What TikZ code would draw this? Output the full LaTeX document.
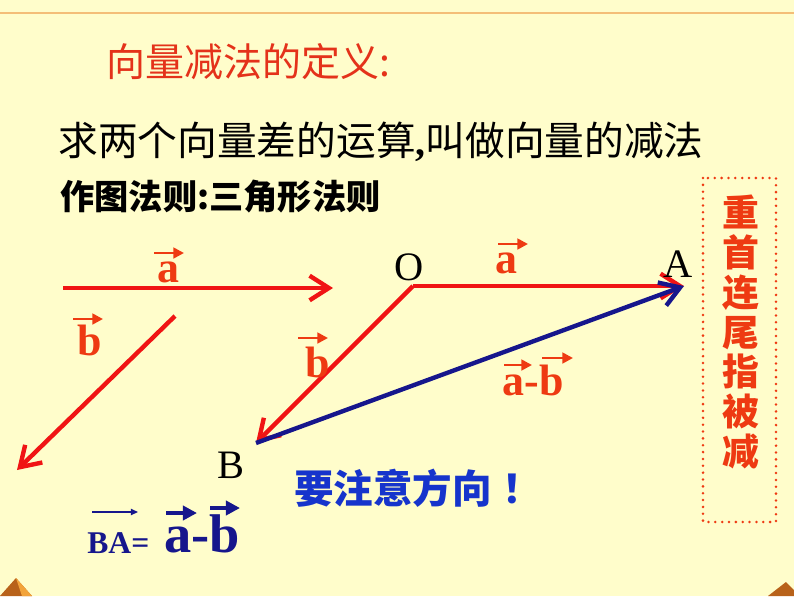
\documentclass[tikz,border=0pt]{standalone}
\usepackage{fontspec}
\setmainfont{Liberation Serif}
\newfontfamily\cjk{Noto Sans CJK SC}
\usetikzlibrary{arrows.meta,calc}

\definecolor{bgyellow}{HTML}{FFFDCB}
\definecolor{vecred}{HTML}{F01414}
\definecolor{labred}{HTML}{EE3A12}
\definecolor{titlered}{HTML}{E4321A}
\definecolor{navy}{HTML}{16168C}
\definecolor{noteblue}{HTML}{1634CC}
\definecolor{ruleorange}{HTML}{F4BE78}
\definecolor{pyrdark}{HTML}{B8621A}
\definecolor{pyrlight}{HTML}{F2A33A}

\tikzset{
  vec/.style={vecred, line width=2.5pt, -{Straight Barb[length=11pt,width=14pt]}},
  diffvec/.style={vec, navy},
  vecmark/.style={labred, line width=1.6pt, -{Triangle[length=6pt,width=6pt]}},
  letter/.style={labred, font=\fontsize{25}{25}\selectfont\bfseries, inner sep=0pt, anchor=base},
  ptlabel/.style={font=\fontsize{23}{23}\selectfont, inner sep=0pt, anchor=base},
}

\begin{document}
\begin{tikzpicture}[x=0.02cm, y=-0.02cm]

  % page
  \fill[bgyellow] (0,0) rectangle (794,596);
  \useasboundingbox (0,0) rectangle (794,596);
  \draw[ruleorange, line width=1.3pt] (0,13) -- (794,13);
  \fill[pyrdark] (0,596) -- (16,578) -- (32,596) -- cycle;
  \fill[pyrlight] (16,578) -- (32,596) -- (22,596) -- cycle;
  \fill[pyrdark] (768,596) -- (786,582) -- (794,590) -- (794,596) -- cycle;

  % texts
  \node[anchor=west, inner sep=0pt, titlered, font=\cjk\fontsize{22.2}{22.2}\selectfont] (title) at (106,62) {向量减法的定义:};
  \node[anchor=west, inner sep=0pt, font=\cjk\fontsize{22.6}{22.6}\selectfont] (defn) at (58,142) {求两个向量差的运算{\rmfamily\bfseries,}叫做向量的减法};
  \node[anchor=west, inner sep=0pt, font=\cjk\bfseries\fontsize{19.5}{19.5}\selectfont] (rule) at (60,197) {作图法则:三角形法则};

  % the two vectors
  \coordinate (a1) at (63,288);
  \coordinate (a2) at (333,288);
  \coordinate (b1) at (175,316);
  \coordinate (b2) at (17,470);
  \draw[vec] (a1) -- (a2);
  \draw[vec] (b1) -- (b2);
  \node[letter] (la) at (168,282) {a};
  \draw[vecmark] (154,253) -- (184,253);
  \node[letter] (lb) at (90,355) {b};
  \draw[vecmark] (73,319) -- (103,319);

  % triangle
  \coordinate (O) at (413,286);
  \coordinate (A) at (684,286);
  \coordinate (B) at (256,443);
  \draw[vec] (O) -- (A);
  \draw[vec] (O) -- (B);
  \draw[diffvec] (B) -- (A);
  \node[ptlabel] (nO) at (409,280) {O};
  \node[ptlabel] (nA) at (678,277) {A};
  \node[ptlabel] (nB) at (231,478) {B};

  \node[letter] (ta) at (506,273) {a};
  \draw[vecmark] (498,244) -- (528,244);
  \node[letter] (tb) at (318,377) {b};
  \draw[vecmark] (298,338) -- (328,338);
  \node[letter] (tab) at (533,395) {a-b};
  \draw[vecmark] (504,365) -- (532,365);
  \draw[vecmark] (542,358) -- (573,358);

  % note
  \node[noteblue, inner sep=0pt, anchor=west, font=\cjk\bfseries\fontsize{22.5}{22.5}\selectfont] (note) at (294,488) {要注意方向\hspace{6pt}！};

  % BA = a-b
  \node[navy, inner sep=0pt, anchor=base west, font=\fontsize{18}{18}\selectfont\bfseries] (ba) at (87,553) {BA=};
  \draw[navy, line width=0.8pt, -{Triangle[length=4pt,width=3.5pt]}] (92,512) -- (138,512);
  \node[navy, inner sep=0pt, anchor=base west, font=\fontsize{31}{31}\selectfont\bfseries] (diff) at (164,552) {a-b};
  \draw[navy, line width=2.3pt, -{Triangle[length=8pt,width=8pt]}] (166,513) -- (197,513);
  \draw[navy, line width=2.3pt, -{Triangle[length=8pt,width=8pt]}] (210,508) -- (240,508);

  % side box
  \draw[labred, line width=1.6pt, line cap=round, dash pattern=on 0pt off 3.9pt] (703,178) rectangle (776,522);
  \node[labred, inner sep=0pt, align=center, font=\cjk\bfseries\fontsize{21}{22.7}\selectfont] (motto) at (741,332) {重\\首\\连\\尾\\指\\被\\减};

\end{tikzpicture}
\end{document}
